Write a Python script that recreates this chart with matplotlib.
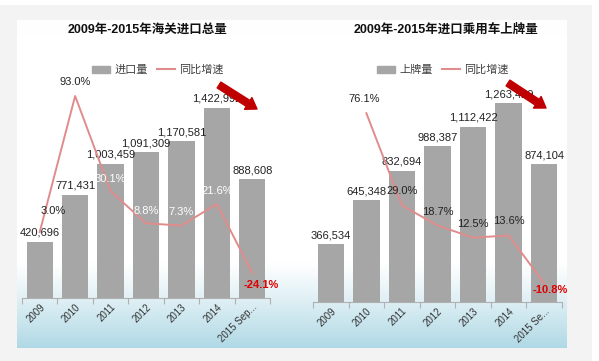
import matplotlib.pyplot as plt
import numpy as np
from matplotlib.lines import Line2D
from matplotlib.patches import Patch, Rectangle

plt.rcParams['font.family'] = ['Liberation Sans', 'Noto Sans CJK SC', 'DejaVu Sans']

years = ['2009', '2010', '2011', '2012', '2013', '2014', '2015 Sep...']
years_r = ['2009', '2010', '2011', '2012', '2013', '2014', '2015 Se...']

# left: customs imports
imports = [420696, 771431, 1003459, 1091309, 1170581, 1422992, 888608]
imports_lbl = ['420,696', '771,431', '1,003,459', '1,091,309', '1,170,581', '1,422,992', '888,608']
imp_growth = [3.0, 93.0, 30.1, 8.8, 7.3, 21.6, -24.1]

# right: registered imported passenger cars
regs = [366534, 645348, 832694, 988387, 1112422, 1263429, 874104]
regs_lbl = ['366,534', '645,348', '832,694', '988,387', '1,112,422', '1,263,429', '874,104']
reg_growth = [np.nan, 76.1, 29.0, 18.7, 12.5, 13.6, -10.8]

W, H = 599, 361
BAR = '#a6a6a6'
LINE = '#e08c8c'


def box(x0, y0, x1, y1):
    # pixel box (top-left origin) -> figure fraction
    return [x0 / W, 1 - y1 / H, (x1 - x0) / W, (y1 - y0) / H]


fig = plt.figure(figsize=(W / 100, H / 100), dpi=100, facecolor='white')

# light grey frame, white strips on top and right
frame = fig.add_axes(box(0, 5, 592, 361), zorder=0)
frame.set_facecolor('#f3f3f3')
frame.set_axis_off()
frame.add_patch(Rectangle((0, 0), 1, 1, transform=frame.transAxes, color='#f3f3f3'))

# white panel with light blue fade at the bottom
bg = fig.add_axes(box(17, 20, 567, 348), zorder=0.5)
n = 300
t = np.linspace(0, 1, n)
fade = np.clip((t - 0.74) / 0.26, 0, 1) ** 1.1
tint = np.clip(1 - t / 0.05, 0, 1) * 0.3
top = np.array([1.0, 1.0, 1.0])
bot = np.array([0.69, 0.85, 0.90])
grad = top[None, :] * (1 - fade[:, None]) + bot[None, :] * fade[:, None]
grad = grad * (1 - tint[:, None] * 0.1) + np.array([0.95, 0.99, 0.95])[None, :] * tint[:, None] * 0.1
bg.imshow(grad[:, None, :], aspect='auto', extent=[0, 1, 1, 0])
bg.set_axis_off()


def panel(rect, vals, vlbls, growth, labels, ymax, glim, title, tx, legname, lx,
          goffs, gcolors, arrow):
    ax = fig.add_axes(rect, zorder=1)
    ax.patch.set_alpha(0)
    x = np.arange(len(vals))
    ax.bar(x, vals, width=0.74, color=BAR, zorder=1)
    ax.set_xlim(-0.5, len(vals) - 0.5)
    ax.set_ylim(0, ymax)
    for s in ['top', 'right', 'left']:
        ax.spines[s].set_visible(False)
    ax.spines['bottom'].set_color('#b0b0b0')
    ax.set_yticks([])
    ax.set_xticks(np.arange(len(vals) + 1) - 0.5, minor=False)
    ax.set_xticklabels([])
    ax.tick_params(axis='x', length=4, color='#b0b0b0')
    ax.set_xticks(x, minor=True)
    ax.set_xticklabels(labels, minor=True, rotation=45, ha='right',
                       rotation_mode='anchor', fontsize=7, color='#333333')
    ax.tick_params(axis='x', which='minor', length=0, pad=3)
    for i, v in enumerate(vals):
        ax.annotate(vlbls[i], (i, v), xytext=(0, 4), textcoords='offset pixels',
                    ha='center', va='bottom', fontsize=8, color='#222222', zorder=2)

    ax2 = ax.twinx()
    ax2.set_ylim(*glim)
    ax2.set_axis_off()
    ax2.plot(x, growth, color=LINE, lw=1.4, zorder=3)
    for i, g in enumerate(growth):
        if np.isnan(g):
            continue
        dx, dy = goffs[i]
        col = gcolors[i]
        bold = col == '#e00000'
        ax2.annotate(f'{g:.1f}%', (i, g), xytext=(dx, dy), textcoords='offset pixels',
                     ha='center', va='center', fontsize=8, color=col,
                     fontweight='bold' if bold else 'normal', zorder=4)

    fig.text(tx / W, 1 - 30 / H, title, ha='center', va='center',
             fontsize=9, fontweight='bold', color='#111111')
    handles = [Patch(color=BAR), Line2D([], [], color=LINE, lw=1.5)]
    fig.legend(handles, [legname, '同比增速'], loc='center',
               bbox_to_anchor=(lx / W, 1 - 70 / H), ncol=2, frameon=False,
               fontsize=8, handlelength=1.6, handleheight=0.6, columnspacing=0.8,
               handletextpad=0.4, labelcolor='#404040')
    (x0, y0), (x1, y1) = arrow
    fig.add_artist(plt.Annotation('', xy=(x1, H - y1), xytext=(x0, H - y0),
                                  xycoords='figure pixels', textcoords='figure pixels',
                                  arrowprops=dict(arrowstyle='simple,head_length=0.75,head_width=1.0,tail_width=0.5',
                                                  color='#c00000', mutation_scale=10, shrinkA=0, shrinkB=0)))
    return ax


panel(box(22, 60, 270, 298), imports, imports_lbl, imp_growth, years,
      1780000, (-40.6, 116.8), '2009年-2015年海关进口总量', 148, '进口量', 158,
      [(13, 21), (0, 14), (0, 12), (0, 12), (0, 14), (0, 13), (9, -12)],
      ['#222222', '#222222', 'white', 'white', 'white', 'white', '#e00000'],
      ((219, 85), (257, 109)))

panel(box(313, 60, 562, 302), regs, regs_lbl, reg_growth, years_r,
      1537000, (-20.4, 103.3), '2009年-2015年进口乘用车上牌量', 446, '上牌量', 443,
      [(0, 0), (-2, 14), (0, 14), (0, 14), (0, 14), (0, 14), (6, -7)],
      ['#222222'] * 6 + ['#e00000'],
      ((508, 83), (546, 108)))

fig.savefig('out.png', dpi=100, facecolor=fig.get_facecolor())
